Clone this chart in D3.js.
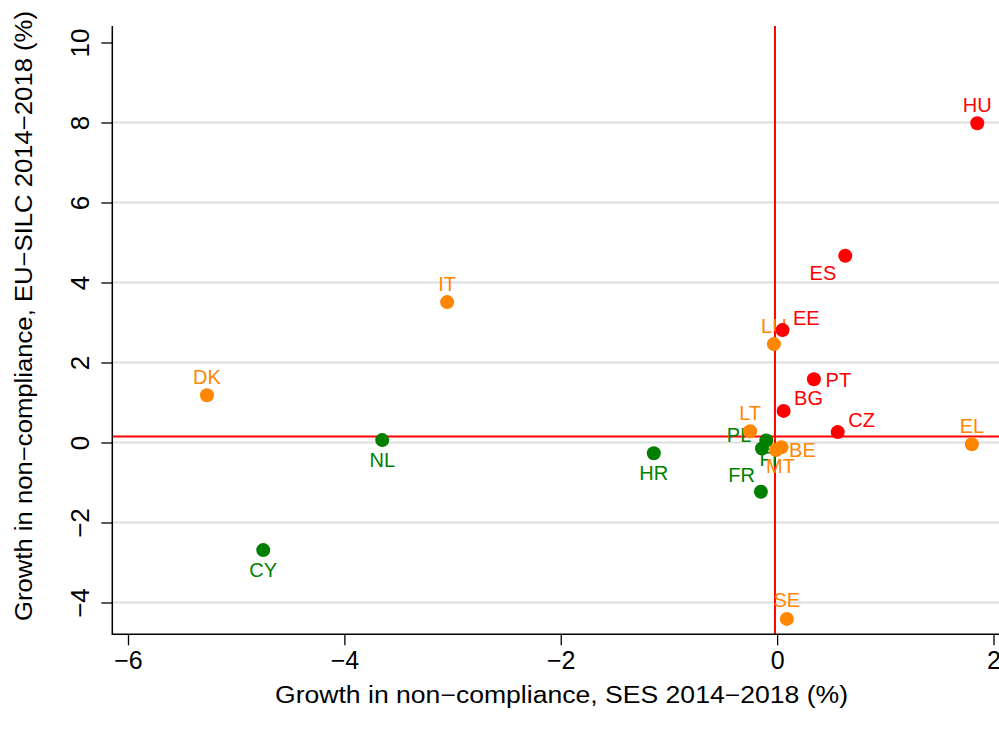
<!DOCTYPE html>
<html>
<head>
<meta charset="utf-8">
<script src="https://cdn.jsdelivr.net/npm/d3@7"></script>
<style>
  html, body { margin: 0; padding: 0; background: #fff; }
  svg { display: block; font-family: "Liberation Sans", Arial, Helvetica, sans-serif; }
</style>
</head>
<body>
<svg id="chart" width="999" height="731"></svg>
<script>
// Country codes, grouped by colour class
const countries = ["HU","ES","EE","LU","PT","BG","CZ","EL","LT","PL","FI","MT","BE","FR","HR","NL","IT","DK","CY","SE"];
// Growth in non-compliance, SES 2014-2018 (%)
const sesGrowth = [1.85, 0.63, 0.05, -0.03, 0.34, 0.06, 0.56, 1.80, -0.25, -0.10, -0.14, -0.01, 0.04, -0.15, -1.14, -3.65, -3.05, -5.27, -4.75, 0.09];
// Growth in non-compliance, EU-SILC 2014-2018 (%)
const silcGrowth = [7.98, 4.67, 2.81, 2.46, 1.58, 0.79, 0.26, -0.045, 0.28, 0.05, -0.15, -0.19, -0.12, -1.23, -0.27, 0.06, 3.51, 1.18, -2.69, -4.41];
// Colour group of each country
const groups = ["red","red","red","orange","red","red","red","orange","orange","green","green","orange","orange","green","green","green","orange","orange","green","orange"];
// Marker label position (clock direction) for each country
const labelPos = ["12","7","2","12","3","2","2","12","12","9","5b","5","4","10","6","6","12","12","6","12"];

// Reference lines (means)
const refX = [-0.02];
const refY = [0.15];

const xTicks = [-6, -4, -2, 0, 2];
const yTicks = [-4, -2, 0, 2, 4, 6, 8, 10];
const yGrid = [-4, -2, 0, 2, 4, 6, 8];

const xTitle = "Growth in non\u2212compliance, SES 2014\u22122018 (%)";
const yTitle = "Growth in non\u2212compliance, EU\u2212SILC 2014\u22122018 (%)";

const colours = { red: "#ff0000", orange: "#ff8600", green: "#008000" };
const drawOrder = ["green", "orange", "red"];

const svg = d3.select("#chart");
const W = 999, H = 731;

const x = d3.scaleLinear().domain([-6, 2]).range([128, 993.5]);
const y = d3.scaleLinear().domain([-4, 10]).range([602.5, 42.5]);

const plotLeft = 112.3, plotRight = W, plotTop = 26, plotBottom = 634.3;

// Horizontal grid lines
svg.append("g").selectAll("line").data(yGrid).join("line")
  .attr("x1", plotLeft).attr("x2", plotRight)
  .attr("y1", d => y(d)).attr("y2", d => y(d))
  .attr("stroke", "#dedede").attr("stroke-width", 2);

// Reference lines
svg.append("g").selectAll("line").data(refY).join("line")
  .attr("x1", plotLeft).attr("x2", plotRight)
  .attr("y1", d => y(d)).attr("y2", d => y(d))
  .attr("stroke", "#ff0000").attr("stroke-width", 2);
svg.append("g").selectAll("line").data(refX).join("line")
  .attr("x1", d => x(d)).attr("x2", d => x(d))
  .attr("y1", plotTop).attr("y2", plotBottom)
  .attr("stroke", "#ff0000").attr("stroke-width", 2);

// Axes
const xAxis = d3.axisBottom(x).tickValues(xTicks).tickSize(11).tickPadding(6)
  .tickFormat(d => d < 0 ? "\u2212" + Math.abs(d) : String(d));
const gx = svg.append("g").attr("transform", `translate(0,${plotBottom})`).call(xAxis);
gx.select(".domain").remove();
gx.selectAll(".tick line").attr("stroke", "#000").attr("stroke-width", 1.3);
gx.selectAll(".tick text").attr("font-size", 25).attr("fill", "#000")
  .attr("font-family", "Liberation Sans, Arial, sans-serif");

const yAxis = d3.axisLeft(y).tickValues(yTicks).tickSize(11)
  .tickFormat(d => d < 0 ? "\u2212" + Math.abs(d) : String(d));
const gy = svg.append("g").attr("transform", `translate(${plotLeft},0)`).call(yAxis);
gy.select(".domain").remove();
gy.selectAll(".tick line").attr("stroke", "#000").attr("stroke-width", 1.3);
gy.selectAll(".tick text")
  .attr("font-size", 26).attr("fill", "#000")
  .attr("font-family", "Liberation Sans, Arial, sans-serif")
  .attr("x", null).attr("dy", null)
  .attr("text-anchor", "middle")
  .attr("transform", "translate(-23,0) rotate(-90)");

// Axis lines
svg.append("line").attr("x1", plotLeft).attr("x2", plotLeft).attr("y1", plotTop).attr("y2", plotBottom + 0.7)
  .attr("stroke", "#000").attr("stroke-width", 1.5);
svg.append("line").attr("x1", plotLeft).attr("x2", plotRight).attr("y1", plotBottom).attr("y2", plotBottom)
  .attr("stroke", "#000").attr("stroke-width", 1.5);

// Axis titles
svg.append("text").attr("x", 561.5).attr("y", 702.5)
  .attr("text-anchor", "middle").attr("font-size", 23).attr("fill", "#000")
  .attr("textLength", 573).attr("lengthAdjust", "spacingAndGlyphs")
  .text(xTitle);
svg.append("text").attr("transform", "translate(31.5,316) rotate(-90)")
  .attr("text-anchor", "middle").attr("font-size", 23).attr("fill", "#000")
  .attr("textLength", 610).attr("lengthAdjust", "spacingAndGlyphs")
  .text(yTitle);

// Label placement offsets by clock position: [dx, dy, anchor]
const offsets = {
  "12": [0, -11.5, "middle"],
  "6":  [0, 27, "middle"],
  "2":  [10.5, -5.6, "start"],
  "3":  [11.7, 7.4, "start"],
  "4":  [7.6, 10, "start"],
  "5":  [-10, 23.3, "start"],
  "5b": [-2.5, 17, "start"],
  "7":  [-9, 24.3, "end"],
  "9":  [-15, 1.6, "end"],
  "10": [-6, -9.4, "end"]
};

const rows = countries.map((c, i) => ({
  code: c, sx: sesGrowth[i], sy: silcGrowth[i], grp: groups[i], pos: labelPos[i]
}));

drawOrder.forEach(grp => {
  const g = svg.append("g").attr("class", "series-" + grp);
  const sub = rows.filter(r => r.grp === grp);
  g.selectAll("circle").data(sub).join("circle")
    .attr("cx", d => x(d.sx)).attr("cy", d => y(d.sy)).attr("r", 7)
    .attr("fill", colours[grp]);
  g.selectAll("text").data(sub).join("text")
    .attr("x", d => x(d.sx) + offsets[d.pos][0])
    .attr("y", d => y(d.sy) + offsets[d.pos][1])
    .attr("text-anchor", d => offsets[d.pos][2])
    .attr("font-size", 20).attr("fill", colours[grp])
    .text(d => d.code);
});
</script>
</body>
</html>
